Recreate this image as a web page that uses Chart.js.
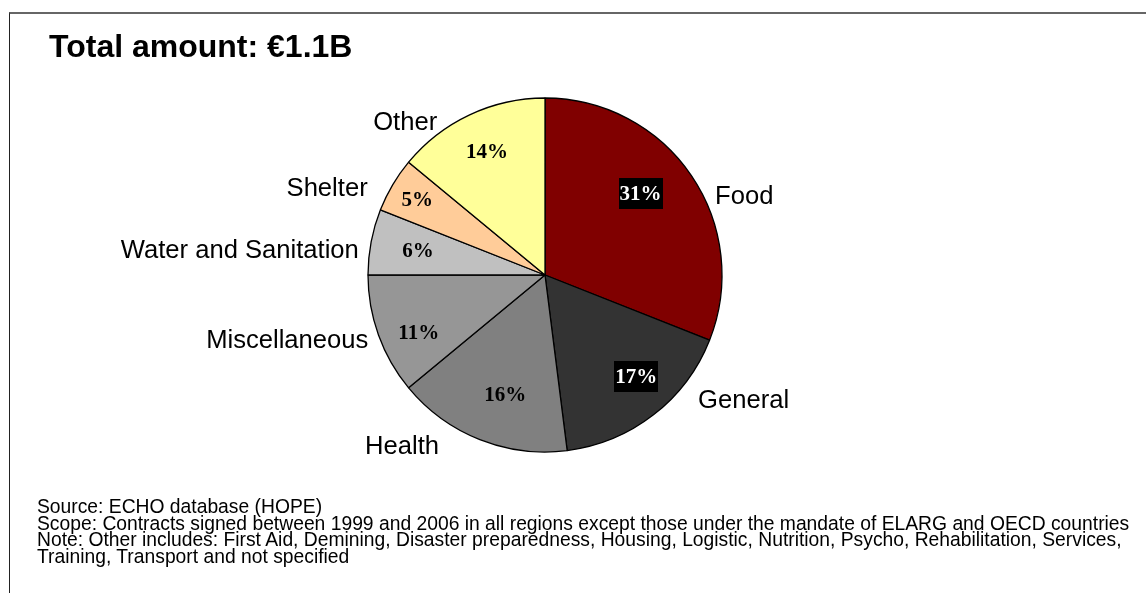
<!DOCTYPE html>
<html>
<head>
<meta charset="utf-8">
<title>Total amount: €1.1B</title>
<script src="https://cdn.jsdelivr.net/npm/chart.js@4"></script>
<style>
  html, body { margin: 0; padding: 0; background: #fff; }
  #wrap { position: relative; width: 1146px; height: 593px; overflow: hidden; background: #fff; }
  #frame { position: absolute; left: 9px; top: 12px; right: -5px; bottom: -5px;
           border-left: 1px solid #222; border-top: 2px solid #666; }
  canvas { position: absolute; left: 0; top: 0; }
  #title { position: absolute; left: 49px; top: 27px; font: bold 32px "Liberation Sans", Arial, sans-serif;
           color: #000; white-space: nowrap; line-height: 38px; }
  #notes { position: absolute; left: 37px; top: 499px; font: 19.3px "Liberation Sans", Arial, sans-serif;
           color: #000; line-height: 16.7px; white-space: nowrap; }
</style>
</head>
<body>
<div id="wrap">
  <div id="frame"></div>
  <canvas id="c" width="1146" height="593"></canvas>
  <div id="title">Total amount: €1.1B</div>
  <div id="notes">
    <div>Source: ECHO database (HOPE)</div>
    <div>Scope: Contracts signed between 1999 and 2006 in all regions except those under the mandate of ELARG and OECD countries</div>
    <div>Note: Other includes: First Aid, Demining, Disaster preparedness, Housing, Logistic, Nutrition, Psycho, Rehabilitation, Services,</div>
    <div>Training, Transport and not specified</div>
  </div>
</div>
<script>
// Sector shares of total funding (percent)
const sectors = ['Food', 'General', 'Health', 'Miscellaneous', 'Water and Sanitation', 'Shelter', 'Other'];
const shares = [31, 17, 16, 11, 6, 5, 14];
const sliceColors = ['#800000', '#333333', '#808080', '#969696', '#C0C0C0', '#FFCC99', '#FFFF99'];

// Percent label styling: boxed white text on the two darkest slices
const boxedLabel = [true, true, false, false, false, false, false];
// Fine placement of the labels relative to each slice's mid angle
const innerShiftDeg = [-6.3, -4.2, -3.2, -4.9, -0.1, 0.1, 0];
const innerRadiusFrac = [0.71, 0.77, 0.71, 0.785, 0.73, 0.84, 0.77];
const outerShiftDeg = [9, -13.2, 10.4, -0.2, -2.8, -4.2, -9.8];
const outerGap = [11, 20, 23, 11, 11, 21, 11];

const sliceLabels = {
  id: 'sliceLabels',
  afterDatasetsDraw(chart) {
    const ctx = chart.ctx;
    const meta = chart.getDatasetMeta(0);
    const total = shares.reduce((a, b) => a + b, 0);
    meta.data.forEach((arc, i) => {
      const p = arc.getProps(['x', 'y', 'startAngle', 'endAngle', 'outerRadius'], true);
      const mid = (p.startAngle + p.endAngle) / 2;
      const r = p.outerRadius;

      // percentage inside the slice
      const a1 = mid + innerShiftDeg[i] * Math.PI / 180;
      const ix = p.x + Math.cos(a1) * r * innerRadiusFrac[i];
      const iy = p.y + Math.sin(a1) * r * innerRadiusFrac[i];
      const pct = Math.round(shares[i] / total * 100) + '%';
      ctx.save();
      ctx.font = 'bold 21px "Liberation Serif", "Times New Roman", serif';
      ctx.textAlign = 'center';
      ctx.textBaseline = 'middle';
      if (boxedLabel[i]) {
        const w = ctx.measureText(pct).width + 2;
        ctx.fillStyle = '#000';
        ctx.fillRect(Math.round(ix - w / 2), Math.round(iy - 15.5), Math.round(w), 31);
        ctx.fillStyle = '#fff';
      } else {
        ctx.fillStyle = '#000';
      }
      ctx.fillText(pct, ix, iy + 1);

      // category name outside the pie
      const a2 = mid + outerShiftDeg[i] * Math.PI / 180;
      const ox = p.x + Math.cos(a2) * (r + outerGap[i]);
      const oy = p.y + Math.sin(a2) * (r + outerGap[i]) + 2;
      ctx.font = '25.6px "Liberation Sans", Arial, sans-serif';
      ctx.fillStyle = '#000';
      ctx.textAlign = Math.cos(a2) >= 0 ? 'left' : 'right';
      ctx.fillText(sectors[i], ox, oy);
      ctx.restore();
    });
  }
};

new Chart(document.getElementById('c'), {
  type: 'pie',
  data: {
    labels: sectors,
    datasets: [{
      data: shares,
      backgroundColor: sliceColors,
      borderColor: '#000',
      borderWidth: 1.3
    }]
  },
  options: {
    responsive: false,
    animation: false,
    radius: 177,
    layout: { padding: { left: 0, right: 56, top: 98, bottom: 141 } },
    plugins: {
      legend: { display: false },
      tooltip: { enabled: false }
    }
  },
  plugins: [sliceLabels]
});
</script>
</body>
</html>
